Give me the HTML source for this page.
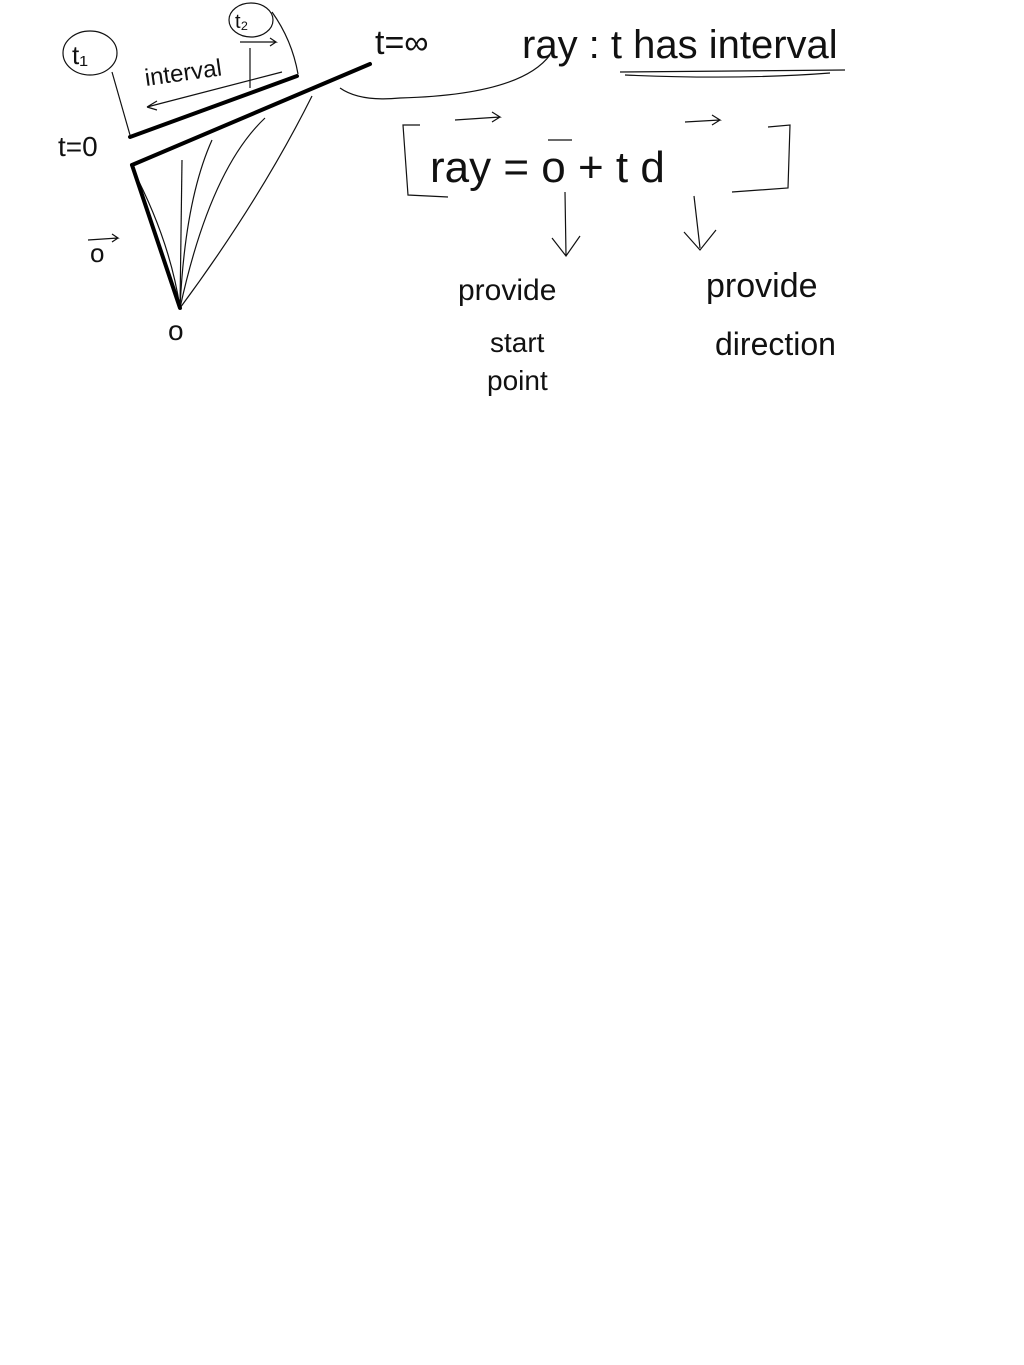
<!DOCTYPE html>
<html><head><meta charset="utf-8"><style>
html,body{margin:0;padding:0;background:#fff;width:1024px;height:1365px;overflow:hidden}
svg{display:block}
text{font-family:"Liberation Sans",sans-serif;fill:#111;font-weight:normal}
</style></head><body>
<svg width="1024" height="1365" viewBox="0 0 1024 1365">
<g stroke="#111" stroke-width="1.2" fill="none">
  <ellipse cx="90" cy="53" rx="27" ry="22"/>
  <ellipse cx="251" cy="20" rx="22" ry="17"/>
  <path d="M112,72 L130,135"/>
  <path d="M272,12 Q292,40 298,74"/>
  <path d="M147,107 L282,72 M147,107 l10,-6 M147,107 l10,3"/>
  <path d="M250,48 L250,88 M240,42 L276,42 l-6,-4 M276,42 l-6,4"/>
  <path d="M180,308 Q170,240 132,168"/>
  <path d="M180,308 L182,160"/>
  <path d="M180,308 Q185,200 212,140"/>
  <path d="M180,308 Q210,170 265,118"/>
  <path d="M180,308 Q260,200 312,96"/>
  <path d="M340,88 Q360,102 400,98 Q520,95 550,55"/>
  <path d="M620,72 L845,70"/>
  <path d="M625,75 Q740,80 830,73"/>
  <path d="M420,125 L403,125 L408,195 L448,197"/>
  <path d="M768,127 L790,125 L788,188 L732,192"/>
  <path d="M455,120 L500,117 l-8,-5 M500,117 l-8,5"/>
  <path d="M548,140 L572,140"/>
  <path d="M685,122 L720,120 l-8,-5 M720,120 l-8,5"/>
  <path d="M565,192 L566,255 M552,238 L566,256 L580,236"/>
  <path d="M694,196 L700,248 M684,232 L700,250 L716,230"/>
  <path d="M88,240 L118,238 l-6,-4 M118,238 l-6,4"/>
</g>
<g stroke="#000" stroke-width="4" stroke-linecap="round">
  <line x1="130" y1="137" x2="297" y2="76"/>
  <line x1="132" y1="165" x2="370" y2="64"/>
  <line x1="132" y1="165" x2="180" y2="308"/>
</g>
<text x="72" y="64" font-size="26">t₁</text>
<text x="235" y="28" font-size="20">t₂</text>
<text x="146" y="86" font-size="24" transform="rotate(-8 146 86)">interval</text>
<text x="58" y="156" font-size="28">t=0</text>
<text x="375" y="54" font-size="34">t=∞</text>
<text x="522" y="58" font-size="40">ray : t has interval</text>
<text x="90" y="262" font-size="26">o</text>
<text x="168" y="340" font-size="28">o</text>
<text x="430" y="182" font-size="44">ray = o + t d</text>
<text x="458" y="300" font-size="30">provide</text>
<text x="490" y="352" font-size="28">start</text>
<text x="487" y="390" font-size="28">point</text>
<text x="706" y="297" font-size="34">provide</text>
<text x="715" y="355" font-size="32">direction</text>
</svg>
</body></html>
